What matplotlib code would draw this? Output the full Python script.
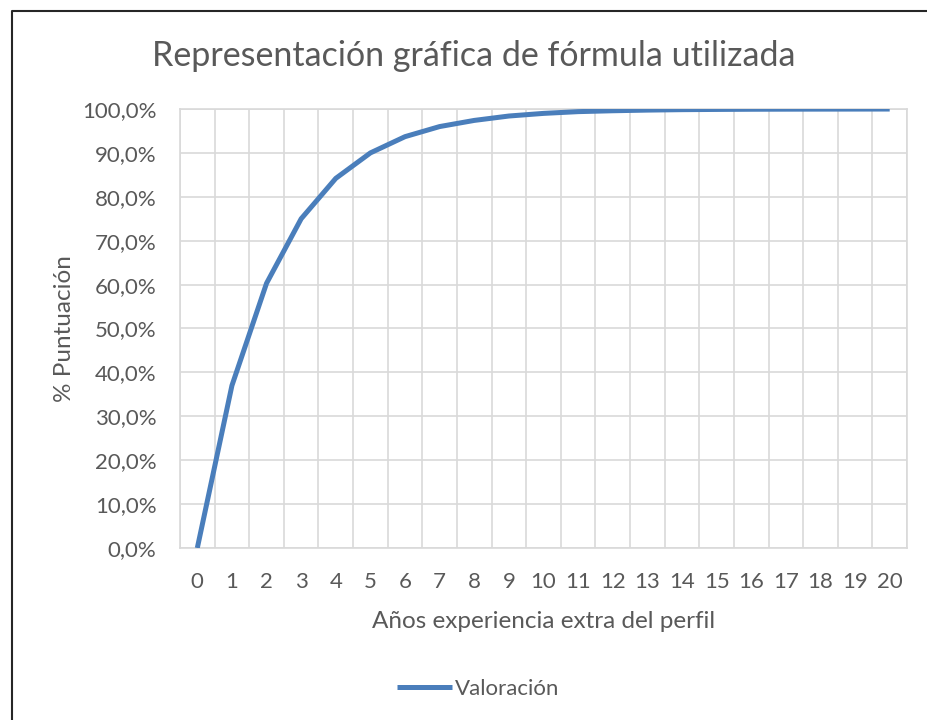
import numpy as np
import matplotlib
matplotlib.use('Agg')
import matplotlib.pyplot as plt
from matplotlib.lines import Line2D
from matplotlib.ticker import FuncFormatter, MultipleLocator

# datos
anos = list(range(0, 21))
valoracion = [0.0, 37.0, 60.3, 75.0, 84.2, 90.0, 93.7, 96.0, 97.4, 98.4, 99.0,
              99.4, 99.6, 99.75, 99.85, 99.9, 99.94, 99.96, 99.97, 99.98, 99.99]
titulo = 'Representación gráfica de fórmula utilizada'
xlabel = 'Años experiencia extra del perfil'
ylabel = '% Puntuación'
serie = 'Valoración'

gris = '#595959'
azul = '#4A7EBB'
rejilla = '#D9D9D9'

plt.rcParams['font.family'] = ['Lato', 'DejaVu Sans']

fig = plt.figure(figsize=(9.28, 7.2), dpi=100)
ax = fig.add_axes([180/928, 172/720, 727/928, 439/720])

ax.plot(anos, valoracion, color=azul, lw=3.6, solid_capstyle='butt',
        solid_joinstyle='round', label=serie, zorder=3)

ax.set_xlim(-0.5, 20.5)
ax.set_ylim(0, 100)
ax.set_xticks(anos)
ax.set_xticks(np.arange(-0.5, 21, 1), minor=True)
ax.yaxis.set_major_locator(MultipleLocator(10))
ax.yaxis.set_major_formatter(FuncFormatter(lambda v, p: ('%.1f%%' % v).replace('.', ',')))

ax.grid(which='minor', axis='x', color=rejilla, lw=1.2)
ax.grid(which='major', axis='y', color=rejilla, lw=1.2)
ax.set_axisbelow(True)
for s in ax.spines.values():
    s.set_color(rejilla)
    s.set_linewidth(1.2)

ax.tick_params(which='both', length=0)
ax.tick_params(axis='x', labelsize=16, colors=gris, pad=17)
ax.tick_params(axis='y', labelsize=16, colors=gris, pad=17)

ax.set_xlabel(xlabel, fontsize=17.5, color=gris, labelpad=14)
ax.set_ylabel(ylabel, fontsize=17.5, color=gris, labelpad=5)

fig.text(474/928, 1 - 56/720, titulo, ha='center', va='center',
         fontsize=24.5, color=gris)

fig.legend(loc='center', bbox_to_anchor=(478/928, 31/720), frameon=False,
           fontsize=16, labelcolor=gris, handlelength=2.5, handletextpad=0.1)

# borde del grafico (solo arriba e izquierda visibles)
fig.add_artist(Line2D([12/928, 12/928, 1.0], [0.0, 1 - 10.5/720, 1 - 10.5/720],
                      transform=fig.transFigure, color='#262626', lw=1.5))

fig.savefig('out.png', dpi=100)
